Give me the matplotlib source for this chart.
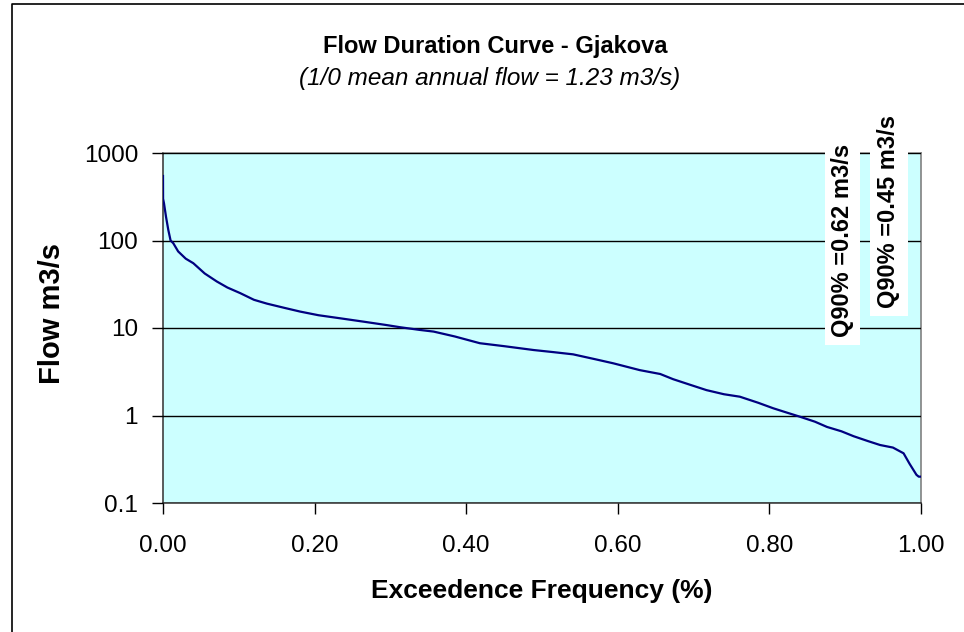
import matplotlib.pyplot as plt
from matplotlib.patches import Rectangle
from matplotlib.lines import Line2D
from matplotlib.transforms import Bbox

plt.rcParams['font.family'] = ['Liberation Sans', 'DejaVu Sans']

# exceedence frequency vs flow
freq = [0.0, 0.0001, 0.0013, 0.004, 0.007, 0.010, 0.0136, 0.020, 0.030, 0.040, 0.055,
        0.071, 0.085, 0.102, 0.120, 0.137, 0.160, 0.181, 0.205, 0.234, 0.265,
        0.295, 0.313, 0.339, 0.357, 0.385, 0.418, 0.450, 0.489, 0.515, 0.541,
        0.570, 0.594, 0.629, 0.656, 0.673, 0.695, 0.717, 0.740, 0.761, 0.785,
        0.805, 0.820, 0.840, 0.860, 0.876, 0.895, 0.911, 0.930, 0.946, 0.963,
        0.977, 0.985, 0.994, 0.997, 1.0]
flow = [546, 300, 266, 186, 132, 100, 93, 75, 62, 55, 42,
        34, 29, 25, 21, 19, 17, 15.4, 14, 12.9, 11.8,
        10.8, 10.2, 9.5, 9.1, 8.0, 6.7, 6.2, 5.6, 5.3, 5.0,
        4.4, 3.95, 3.3, 2.98, 2.6, 2.25, 1.95, 1.75, 1.64, 1.40,
        1.21, 1.10, 0.97, 0.85, 0.74, 0.66, 0.58, 0.51, 0.46, 0.43,
        0.37, 0.28, 0.21, 0.20, 0.20]

xticks = [0.0, 0.2, 0.4, 0.6, 0.8, 1.0]
yticks = [0.1, 1, 10, 100, 1000]
ylabels = ['0.1', '1', '10', '100', '1000']

fig = plt.figure(figsize=(9.64, 6.32), dpi=100)
ax = fig.add_axes([163/964, 1-503/632, 758/964, 350/632])
ax.set_facecolor('#CCFFFF')
ax.plot(freq, flow, color='#000080', lw=1.6, zorder=3)

ax.set_yscale('log')
ax.set_ylim(0.1, 1000)
ax.set_xlim(0, 1)
ax.set_yticks(yticks)
ax.set_yticklabels(ylabels)
ax.minorticks_off()
ax.set_xticks(xticks)
ax.set_xticklabels(['%.2f' % t for t in xticks])
ax.tick_params(labelsize=17.5, direction='out', length=8, width=1, color='black')
ax.tick_params(axis='x', pad=15)
ax.tick_params(axis='y', pad=10)
ax.yaxis.grid(True, color='black', lw=1)
ax.set_axisbelow(False)
for s in ['top', 'right']:
    ax.spines[s].set_color('#808080')
for s in ['left', 'bottom']:
    ax.spines[s].set_color('#404040')
for s in ax.spines.values():
    s.set_linewidth(1.2)

# axis titles
fig.text(52/964, 1-314/632, 'Flow m3/s', rotation=90, ha='center', va='center',
         fontsize=21, fontweight='bold')
fig.text(542/964, 1-591/632, 'Exceedence Frequency (%)', ha='center', va='center',
         fontsize=19, fontweight='bold')

fig.text(495/964, 1-46/632, 'Flow Duration Curve - Gjakova', ha='center', va='center',
         fontsize=17, fontweight='bold')
fig.text(490/964, 1-79/632, '(1/0 mean annual flow = 1.23 m3/s)', ha='center', va='center',
         fontsize=17.5, style='italic')

# white label boxes with the Q90 notes
fig.patches.append(Rectangle((825/964, 1-345/632), 35/964, 193/632, transform=fig.transFigure,
                             facecolor='white', edgecolor='none', zorder=5))
fig.patches.append(Rectangle((870/964, 1-316/632), 38/964, 226/632, transform=fig.transFigure,
                             facecolor='white', edgecolor='none', zorder=5))
t1 = fig.text(842/964, 1-337/632, 'Q90% =0.62 m3/s', rotation=90, ha='center', va='bottom',
              fontsize=17, fontweight='bold', zorder=6)
t2 = fig.text(889/964, 1-308/632, 'Q90% =0.45 m3/s', rotation=90, ha='center', va='bottom',
              fontsize=17, fontweight='bold', zorder=6)
t1.set_clip_box(Bbox([[800, 632-143], [870, 632-337]]))
t1.set_clip_on(True)
t2.set_clip_box(Bbox([[860, 632-115], [920, 632-320]]))
t2.set_clip_on(True)

# chart outer border (left and top edges visible)
fig.lines.append(Line2D([12/964, 12/964, 1.0], [0, 1-4/632, 1-4/632],
                        transform=fig.transFigure, color='black', lw=1.2))

fig.savefig('out.png', dpi=100)
